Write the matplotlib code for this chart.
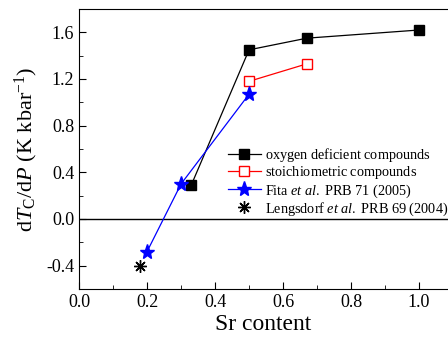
import matplotlib
matplotlib.use('Agg')
import matplotlib.pyplot as plt
from matplotlib.ticker import MultipleLocator

plt.rcParams['font.family'] = 'Liberation Serif'
plt.rcParams['mathtext.fontset'] = 'custom'
plt.rcParams['mathtext.rm'] = 'Liberation Serif'
plt.rcParams['mathtext.it'] = 'Liberation Serif:italic'

# data
sr_oxy = [0.33, 0.5, 0.67, 1.0]
dtc_oxy = [0.29, 1.45, 1.55, 1.62]

sr_stoi = [0.5, 0.67]
dtc_stoi = [1.18, 1.33]

sr_fita = [0.2, 0.3, 0.5]
dtc_fita = [-0.28, 0.30, 1.07]

sr_leng = [0.18]
dtc_leng = [-0.40]

# all labels in mathtext so the legend rows get the same height
labels = [r'$\mathrm{oxygen\ deficient\ compounds}$',
          r'$\mathrm{stoichiometric\ compounds}$',
          r'$\mathrm{Fita\ }\mathit{et\ al}\mathrm{.\ PRB\ 71\ (2005)}$',
          r'$\mathrm{Lengsdorf\ }\mathit{et\ al}\mathrm{.\ PRB\ 69\ (2004)}$']

fig = plt.figure(figsize=(4.48, 3.47), dpi=100)
ax = fig.add_axes([79/448, 1 - 289/347, 1 - 79/448, 280/347])

ax.axhline(0, color='black', lw=1)
ax.plot(sr_oxy, dtc_oxy, '-s', color='black', mfc='black', ms=7.5, lw=0.9,
        label=labels[0])
ax.plot(sr_stoi, dtc_stoi, '-s', color='red', mfc='white', ms=7.5, lw=0.9,
        label=labels[1])
ax.plot(sr_fita, dtc_fita, '-*', color='blue', ms=11, lw=0.9,
        label=labels[2])
ax.plot(sr_leng, dtc_leng, linestyle='none', marker=(8, 2, 0), color='black', ms=9,
        mew=1, label=labels[3])

ax.set_xlim(0, 1.085)
ax.set_ylim(-0.6, 1.8)
ax.xaxis.set_major_locator(MultipleLocator(0.2))
ax.xaxis.set_minor_locator(MultipleLocator(0.1))
ax.yaxis.set_major_locator(MultipleLocator(0.4))
ax.yaxis.set_minor_locator(MultipleLocator(0.2))
ax.xaxis.set_major_formatter(plt.FuncFormatter(lambda v, p: f'{v:.1f}'))
ax.yaxis.set_major_formatter(plt.FuncFormatter(lambda v, p: f'{v:.1f}'))
ax.tick_params(which='both', direction='in', top=False, right=False, labelsize=13)
ax.tick_params(which='major', length=5)
ax.tick_params(which='minor', length=3)
ax.spines['right'].set_visible(False)

ax.set_xlabel('Sr content', fontsize=17, labelpad=2)
ax.set_ylabel(r'd$T_{\mathrm{C}}$/d$P$ (K kbar$^{\mathrm{-1}}$)', fontsize=16, labelpad=4)

ax.legend(loc='upper left', bbox_to_anchor=(0.388, 0.532), frameon=False,
          fontsize=10.3, handlelength=2.3, handletextpad=0.3, labelspacing=0.05,
          borderaxespad=0)

fig.savefig('out.png', dpi=100)
